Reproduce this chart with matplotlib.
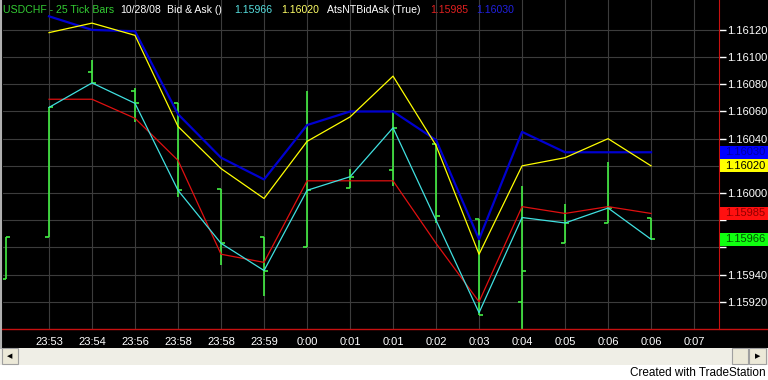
import matplotlib.pyplot as plt
import numpy as np
from matplotlib.patches import Rectangle
from matplotlib.lines import Line2D
from matplotlib.transforms import blended_transform_factory

plt.rcParams["font.family"] = ["Liberation Sans", "DejaVu Sans"]
plt.rcParams["font.size"] = 8

# time axis labels (one per tick bar slot)
times = ["23:53", "23:54", "23:56", "23:58", "23:58", "23:59", "0:00", "0:01",
         "0:01", "0:02", "0:03", "0:04", "0:05", "0:06", "0:06", "0:07"]

# tick bars (first one is partially off the left edge)
bar_pos = np.arange(-1, 15)
bar_open = [1.15937, 1.15968, 1.16089, 1.16075, 1.16066, 1.16003, 1.15968, 1.15960,
            1.16004, 1.16017, 1.16036, 1.15981, 1.15920, 1.15963, 1.15978, 1.15982]
bar_high = [1.15968, 1.16063, 1.16098, 1.16077, 1.16066, 1.16003, 1.15968, 1.16075,
            1.16018, 1.16061, 1.16036, 1.15981, 1.16005, 1.15992, 1.16023, 1.15982]
bar_low = [1.15937, 1.15968, 1.16081, 1.16052, 1.15997, 1.15947, 1.15924, 1.15960,
           1.16004, 1.16005, 1.15978, 1.15910, 1.15898, 1.15963, 1.15978, 1.15966]
bar_close = [1.15968, 1.16063, 1.16081, 1.16066, 1.16002, 1.15963, 1.15943, 1.16002,
             1.16012, 1.16048, 1.15983, 1.15910, 1.15943, 1.15978, 1.15989, 1.15966]

# bid / ask indicator lines
line_pos = np.arange(0, 15)
ask_high = [1.16130, 1.16120, 1.16119, 1.16058, 1.16026, 1.16010, 1.16050, 1.16060,
            1.16060, 1.16039, 1.15966, 1.16045, 1.16030, 1.16030, 1.16030]
ask_close = [1.16118, 1.16125, 1.16116, 1.16049, 1.16018, 1.15996, 1.16038, 1.16056,
             1.16086, 1.16035, 1.15955, 1.16020, 1.16026, 1.16040, 1.16020]
bid_low = [1.16069, 1.16069, 1.16055, 1.16024, 1.15955, 1.15949, 1.16009, 1.16009,
           1.16009, 1.15963, 1.15920, 1.15990, 1.15985, 1.15990, 1.15985]
bid_close = [1.16063, 1.16081, 1.16066, 1.16002, 1.15963, 1.15943, 1.16002, 1.16012,
             1.16048, 1.15980, 1.15912, 1.15982, 1.15978, 1.15989, 1.15966]

price_ticks = np.arange(1.15920, 1.161201, 0.0002)

W, H = 768, 380
fig = plt.figure(figsize=(W / 100, H / 100), dpi=100, facecolor="white")


def fx(px):
    return px / W


def fy(py):
    return 1 - py / H


# black chart window
fig.add_artist(Rectangle((0, fy(348)), 1, 348 / H, transform=fig.transFigure,
                         facecolor="black", edgecolor="none", zorder=0))

ax = fig.add_axes([fx(3), fy(329), fx(716), 329 / H])
ax.set_facecolor("black")
ax.set_xlim(-1.07, 15.58)
ax.set_ylim(1.15900, 1.16142)

for s in ["top", "left", "bottom"]:
    ax.spines[s].set_visible(False)
ax.spines["right"].set_color("#c81010")

ax.set_xticks(range(len(times)))
ax.set_xticklabels(times, color="white")
ax.tick_params(axis="x", length=0, pad=6)

# last-value flags on the price scale
flags = [(ask_high[-1], "#0000ff", "#0000a0"),
         (ask_close[-1], "#ffff00", "black"),
         (bid_low[-1], "#ff1010", "#900000"),
         (bid_close[-1], "#10ff10", "#005000")]
hh = 13 / 1.36 * 1e-5

# price labels hidden where a flag sits on top of them
labels = []
for p in price_ticks:
    covered = any(abs(p - v) < hh for v, _, _ in flags)
    labels.append("" if covered else f"{p:.5f}")
ax.yaxis.tick_right()
ax.set_yticks(price_ticks)
ax.set_yticklabels(labels, color="white")
ax.tick_params(axis="y", direction="out", length=5, width=1, color="white", pad=1)
ax.grid(color="#3c3c3c", linewidth=0.8)
ax.set_axisbelow(True)

# OHLC tick bars
green = "#44ee44"
tw = 0.1
ax.vlines(bar_pos, bar_low, bar_high, color=green, lw=1.2, zorder=3)
ax.hlines(bar_open, bar_pos - tw, bar_pos, color=green, lw=1.2, zorder=3)
ax.hlines(bar_close, bar_pos, bar_pos + tw, color=green, lw=1.2, zorder=3)

ax.plot(line_pos, ask_high, color="#0000d0", lw=1.6, zorder=4)
ax.plot(line_pos, ask_close, color="#ffff00", lw=0.9, zorder=4)
ax.plot(line_pos, bid_low, color="#e01010", lw=0.9, zorder=4)
ax.plot(line_pos, bid_close, color="#40e0e0", lw=0.9, zorder=4)

tr = blended_transform_factory(fig.transFigure, ax.transData)
for val, fc, tc in flags:
    ax.add_patch(Rectangle((fx(720), val - hh / 2), fx(48), hh, transform=tr,
                           facecolor=fc, edgecolor="none", clip_on=False, zorder=10))
    ax.text(fx(725), val, f"{val:.5f}", transform=tr, color=tc, va="center",
            ha="left", clip_on=False, zorder=11)

# bottom red rule and left border
fig.add_artist(Line2D([0, 1], [fy(329), fy(329)], color="#c81010", lw=1))
fig.add_artist(Line2D([fx(0.5), fx(0.5)], [fy(0), fy(348)], color="#b0b0b0", lw=1.5))

# header
hy = fy(10)
header = [(3, "USDCHF - 25 Tick Bars", "#33cc33"),
          (120, "10/28/08", "white"),
          (167, "Bid & Ask ()", "white"),
          (234, f"{bid_close[-1]:.5f}", "#55dddd"),
          (281, f"{ask_close[-1]:.5f}", "#ffff66"),
          (327, "AtsNTBidAsk (True)", "white"),
          (430, f"{bid_low[-1]:.5f}", "#e02020"),
          (476, f"{ask_high[-1]:.5f}", "#2020e0")]
for x, s, c in header:
    fig.text(fx(x), hy, s, color=c, va="center", ha="left", fontsize=7.6)

# scrollbar
fig.add_artist(Rectangle((0, fy(365)), 1, 17 / H, transform=fig.transFigure,
                         facecolor="#efeee6", edgecolor="none"))
for x0, x1 in [(2, 18), (732, 748), (749, 766)]:
    fig.add_artist(Rectangle((fx(x0), fy(364)), fx(x1 - x0), 16 / H,
                             transform=fig.transFigure, facecolor="#ece9d8",
                             edgecolor="#a0a0a0", lw=0.8))
fig.text(fx(10), fy(356), "◀", ha="center", va="center", fontsize=5,
         family="DejaVu Sans", color="black")
fig.text(fx(757.5), fy(356), "▶", ha="center", va="center", fontsize=5,
         family="DejaVu Sans", color="black")

fig.text(fx(766), fy(373), "Created with TradeStation", ha="right", va="center",
         color="black", fontsize=8.5)

fig.savefig("out.png", dpi=100, facecolor=fig.get_facecolor())
